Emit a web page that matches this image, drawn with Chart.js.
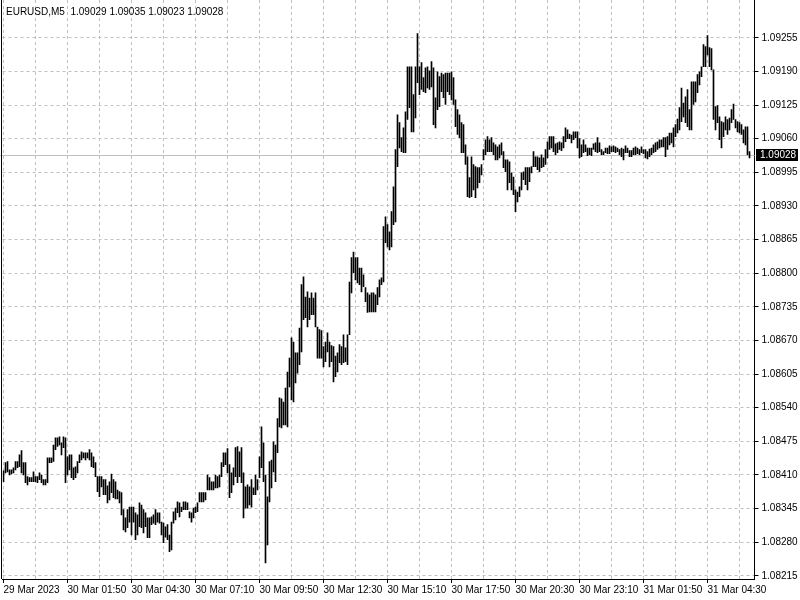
<!DOCTYPE html>
<html>
<head>
    <title>EURUSD,M5</title>
    <script src="https://cdn.jsdelivr.net/npm/chart.js"></script>
</head>
<style>
    body { margin: 0; background: #fff; }
</style>
<body>
    <canvas id="priceChart" width="800" height="600"></canvas>
    <script>
        // bar highs / lows, one per M5 bar, starting 29 Mar 23:10
        const highs = [
            1.08418,1.08434,1.08436,1.08420,1.08420,1.08424,1.08436,1.08436,1.08449,1.08457,
            1.08434,1.08434,1.08407,1.08405,1.08405,1.08416,1.08407,1.08407,1.08414,1.08410,
            1.08401,1.08401,1.08443,1.08443,1.08443,1.08468,1.08482,1.08482,1.08484,1.08472,
            1.08484,1.08482,1.08445,1.08449,1.08449,1.08424,1.08426,1.08436,1.08449,1.08455,
            1.08453,1.08453,1.08453,1.08459,1.08453,1.08445,1.08434,1.08407,1.08407,1.08407,
            1.08401,1.08401,1.08389,1.08397,1.08412,1.08401,1.08397,1.08381,1.08378,1.08376,
            1.08343,1.08327,1.08343,1.08348,1.08348,1.08348,1.08337,1.08333,1.08356,1.08352,
            1.08343,1.08337,1.08327,1.08327,1.08329,1.08333,1.08343,1.08337,1.08337,1.08319,
            1.08317,1.08310,1.08314,1.08294,1.08319,1.08339,1.08346,1.08358,1.08356,1.08348,
            1.08358,1.08358,1.08356,1.08339,1.08337,1.08346,1.08348,1.08356,1.08376,1.08376,
            1.08376,1.08376,1.08410,1.08405,1.08397,1.08397,1.08410,1.08407,1.08410,1.08434,
            1.08453,1.08453,1.08461,1.08430,1.08414,1.08424,1.08463,1.08465,1.08455,1.08463,
            1.08414,1.08387,1.08391,1.08387,1.08401,1.08385,1.08410,1.08401,1.08445,1.08503,
            1.08472,1.08410,1.08368,1.08436,1.08439,1.08474,1.08468,1.08519,1.08559,1.08557,
            1.08551,1.08578,1.08609,1.08636,1.08675,1.08667,1.08646,1.08646,1.08694,1.08778,
            1.08793,1.08754,1.08764,1.08752,1.08762,1.08752,1.08762,1.08696,1.08691,1.08689,
            1.08658,1.08667,1.08685,1.08667,1.08660,1.08658,1.08640,1.08646,1.08662,1.08658,
            1.08681,1.08656,1.08681,1.08783,1.08830,1.08841,1.08830,1.08830,1.08810,1.08810,
            1.08797,1.08772,1.08762,1.08758,1.08762,1.08762,1.08758,1.08772,1.08787,1.08791,
            1.08890,1.08909,1.08894,1.08880,1.08919,1.08967,1.09039,1.09106,1.09091,1.09062,
            1.09081,1.09112,1.09199,1.09199,1.09199,1.09145,1.09199,1.09263,1.09199,1.09207,
            1.09178,1.09197,1.09199,1.09191,1.09209,1.09197,1.09139,1.09189,1.09180,1.09187,
            1.09184,1.09187,1.09187,1.09187,1.09189,1.09178,1.09135,1.09116,1.09106,1.09091,
            1.09087,1.09048,1.09025,1.08985,1.09025,1.09010,1.09006,1.09004,1.09004,1.09010,
            1.09039,1.09058,1.09064,1.09058,1.09062,1.09052,1.09048,1.09044,1.09048,1.09052,
            1.09035,1.09019,1.09019,1.09015,1.08994,1.08986,1.08961,1.08957,1.08967,1.08994,
            1.08996,1.09004,1.09004,1.09004,1.09006,1.09035,1.09025,1.09025,1.09023,1.09029,
            1.09023,1.09039,1.09054,1.09064,1.09064,1.09064,1.09050,1.09052,1.09054,1.09052,
            1.09064,1.09081,1.09077,1.09069,1.09067,1.09073,1.09073,1.09073,1.09060,1.09048,
            1.09058,1.09048,1.09042,1.09042,1.09042,1.09050,1.09052,1.09062,1.09052,1.09039,
            1.09035,1.09042,1.09042,1.09046,1.09044,1.09046,1.09044,1.09042,1.09039,1.09042,
            1.09040,1.09046,1.09042,1.09037,1.09037,1.09042,1.09044,1.09042,1.09039,1.09044,
            1.09039,1.09039,1.09035,1.09040,1.09042,1.09048,1.09052,1.09054,1.09058,1.09058,
            1.09062,1.09062,1.09064,1.09071,1.09071,1.09081,1.09087,1.09098,1.09120,1.09158,
            1.09129,1.09141,1.09155,1.09116,1.09170,1.09170,1.09170,1.09184,1.09189,1.09199,
            1.09242,1.09238,1.09259,1.09236,1.09234,1.09193,1.09122,1.09124,1.09102,1.09093,
            1.09091,1.09102,1.09097,1.09100,1.09116,1.09127,1.09097,1.09093,1.09091,1.09087,
            1.09077,1.09083,1.09083,1.09035
        ];
        const lows = [
            1.08397,1.08414,1.08416,1.08410,1.08412,1.08414,1.08420,1.08424,1.08426,1.08414,
            1.08410,1.08395,1.08391,1.08397,1.08397,1.08397,1.08397,1.08395,1.08401,1.08395,
            1.08391,1.08391,1.08395,1.08434,1.08434,1.08436,1.08459,1.08465,1.08468,1.08449,
            1.08463,1.08395,1.08410,1.08420,1.08405,1.08401,1.08405,1.08414,1.08434,1.08439,
            1.08443,1.08439,1.08443,1.08439,1.08426,1.08424,1.08407,1.08378,1.08368,1.08387,
            1.08372,1.08372,1.08356,1.08362,1.08376,1.08366,1.08364,1.08364,1.08356,1.08333,
            1.08304,1.08300,1.08308,1.08319,1.08294,1.08319,1.08285,1.08294,1.08310,1.08308,
            1.08298,1.08310,1.08289,1.08289,1.08314,1.08317,1.08314,1.08319,1.08317,1.08294,
            1.08279,1.08290,1.08285,1.08262,1.08265,1.08317,1.08323,1.08337,1.08329,1.08339,
            1.08343,1.08343,1.08343,1.08327,1.08319,1.08327,1.08337,1.08339,1.08358,1.08358,
            1.08358,1.08362,1.08381,1.08381,1.08381,1.08381,1.08385,1.08385,1.08387,1.08407,
            1.08426,1.08430,1.08414,1.08366,1.08376,1.08391,1.08407,1.08395,1.08407,1.08395,
            1.08327,1.08346,1.08346,1.08352,1.08348,1.08372,1.08372,1.08381,1.08405,1.08424,
            1.08397,1.08240,1.08275,1.08358,1.08385,1.08416,1.08397,1.08453,1.08503,1.08501,
            1.08507,1.08507,1.08503,1.08580,1.08555,1.08551,1.08588,1.08607,1.08623,1.08648,
            1.08710,1.08714,1.08696,1.08710,1.08720,1.08720,1.08696,1.08636,1.08636,1.08636,
            1.08619,1.08629,1.08648,1.08619,1.08629,1.08590,1.08600,1.08609,1.08627,1.08623,
            1.08627,1.08629,1.08623,1.08681,1.08762,1.08801,1.08787,1.08781,1.08778,1.08764,
            1.08774,1.08745,1.08724,1.08725,1.08725,1.08725,1.08725,1.08739,1.08754,1.08778,
            1.08783,1.08859,1.08851,1.08845,1.08851,1.08894,1.08899,1.09006,1.09042,1.09035,
            1.09033,1.09033,1.09097,1.09120,1.09073,1.09073,1.09100,1.09168,1.09145,1.09155,
            1.09151,1.09149,1.09158,1.09155,1.09160,1.09087,1.09081,1.09116,1.09122,1.09151,
            1.09139,1.09126,1.09151,1.09145,1.09135,1.09126,1.09083,1.09068,1.09062,1.09033,
            1.09033,1.09010,1.08948,1.08946,1.08948,1.08961,1.08946,1.08965,1.08975,1.08990,
            1.09019,1.09029,1.09035,1.09035,1.09035,1.09029,1.09019,1.09019,1.09023,1.09029,
            1.09004,1.08996,1.08961,1.08975,1.08961,1.08952,1.08919,1.08938,1.08948,1.08961,
            1.08981,1.08971,1.08961,1.08977,1.08994,1.09006,1.09006,1.09000,1.08996,1.09004,
            1.09006,1.09010,1.09023,1.09039,1.09042,1.09035,1.09029,1.09033,1.09039,1.09037,
            1.09042,1.09054,1.09060,1.09060,1.09052,1.09058,1.09062,1.09042,1.09023,1.09025,
            1.09033,1.09035,1.09027,1.09029,1.09027,1.09039,1.09035,1.09033,1.09035,1.09029,
            1.09029,1.09033,1.09031,1.09031,1.09035,1.09035,1.09033,1.09035,1.09029,1.09025,
            1.09019,1.09033,1.09033,1.09025,1.09025,1.09029,1.09029,1.09031,1.09029,1.09033,
            1.09031,1.09023,1.09021,1.09025,1.09029,1.09033,1.09035,1.09039,1.09042,1.09044,
            1.09044,1.09025,1.09039,1.09048,1.09052,1.09044,1.09064,1.09071,1.09077,1.09093,
            1.09102,1.09091,1.09083,1.09077,1.09077,1.09126,1.09131,1.09149,1.09164,1.09180,
            1.09199,1.09199,1.09222,1.09199,1.09193,1.09097,1.09077,1.09091,1.09058,1.09042,
            1.09064,1.09077,1.09068,1.09077,1.09091,1.09097,1.09081,1.09073,1.09071,1.09068,
            1.09052,1.09048,1.09029,1.09023
        ];

        // one label every 32 bars
        const timeLabels = [
            '29 Mar 2023', '30 Mar 01:50', '30 Mar 04:30', '30 Mar 07:10',
            '30 Mar 09:50', '30 Mar 12:30', '30 Mar 15:10', '30 Mar 17:50',
            '30 Mar 20:30', '30 Mar 23:10', '31 Mar 01:50', '31 Mar 04:30'
        ];
        const priceTicks = [
            1.08215, 1.08280, 1.08345, 1.08410, 1.08475, 1.08540, 1.08605, 1.08670,
            1.08735, 1.08800, 1.08865, 1.08930, 1.08995, 1.09060, 1.09125, 1.09190, 1.09255
        ];
        const symbol = 'EURUSD,M5';
        const lastBar = { open: 1.09029, high: 1.09035, low: 1.09023, close: 1.09028 };

        const SHIFT_BARS = 2; // empty space right of the last bar
        const gridColor = '#c0c0c0';
        const font = { family: 'Liberation Sans', size: 10 };

        const categories = [];
        for (let i = 0; i < highs.length + SHIFT_BARS; i++) categories.push(i);
        const bars = highs.map((h, i) => [lows[i], h]);

        const terminalPlugin = {
            id: 'terminal',
            beforeDatasetsDraw(chart) {
                const { ctx, chartArea, scales } = chart;
                const y = Math.round(scales.y.getPixelForValue(lastBar.close)) + 0.5;
                ctx.save();
                ctx.strokeStyle = gridColor;
                ctx.lineWidth = 1;
                ctx.beginPath();
                ctx.moveTo(0, y);
                ctx.lineTo(chartArea.right, y);
                ctx.stroke();
                ctx.restore();
            },
            afterDraw(chart) {
                const { ctx, chartArea, scales } = chart;
                ctx.save();
                // left frame
                ctx.strokeStyle = '#000';
                ctx.beginPath();
                ctx.moveTo(1.5, 0);
                ctx.lineTo(1.5, chartArea.bottom);
                ctx.stroke();
                // header
                ctx.fillStyle = '#000';
                ctx.font = '10px "Liberation Sans"';
                ctx.textBaseline = 'alphabetic';
                ctx.fillText(symbol + '  ' + [lastBar.open, lastBar.high, lastBar.low, lastBar.close]
                    .map(v => v.toFixed(5)).join(' '), 6, 15);
                // current price box
                const y = Math.round(scales.y.getPixelForValue(lastBar.close));
                ctx.fillRect(Math.round(chartArea.right) + 1, y - 6, 42, 12);
                ctx.fillStyle = '#fff';
                ctx.textBaseline = 'middle';
                ctx.fillText(lastBar.close.toFixed(5), Math.round(chartArea.right) + 5, y + 0.5);
                ctx.restore();
            }
        };

        const chart = new Chart(document.getElementById('priceChart'), {
            type: 'bar',
            data: {
                labels: categories,
                datasets: [{
                    data: bars,
                    backgroundColor: '#000',
                    borderWidth: 0,
                    barThickness: 1
                }]
            },
            plugins: [terminalPlugin],
            options: {
                responsive: false,
                animation: false,
                layout: { padding: { left: 2.5, top: 0, right: 0, bottom: 0 } },
                plugins: {
                    legend: { display: false },
                    tooltip: { enabled: false }
                },
                scales: {
                    x: {
                        offset: true,
                        grid: {
                            offset: false,
                            color: c => c.index % 16 === 0 ? gridColor : 'rgba(0,0,0,0)',
                            tickColor: c => c.index % 32 === 0 ? '#000' : 'rgba(0,0,0,0)',
                            tickLength: 4
                        },
                        border: { color: '#000', dash: [3, 3] },
                        ticks: {
                            autoSkip: false,
                            maxRotation: 0,
                            align: 'start',
                            padding: 1,
                            color: '#000',
                            font: font,
                            callback: (v, i) => i % 32 === 0 ? (timeLabels[i / 32] || '') : ''
                        },
                        afterFit: s => { s.height = 21; s.paddingLeft = 0; s.paddingRight = 0; }
                    },
                    y: {
                        position: 'right',
                        min: 1.08209,
                        max: 1.09328,
                        grid: { color: gridColor, tickColor: '#000', tickLength: 4 },
                        border: { color: '#000', dash: [3, 3] },
                        ticks: {
                            padding: 3,
                            color: '#000',
                            font: font,
                            callback: v => Number(v).toFixed(5)
                        },
                        afterBuildTicks: s => { s.ticks = priceTicks.map(v => ({ value: v })); },
                        afterFit: s => { s.width = 45.5; s.paddingTop = 0; s.paddingBottom = 0; }
                    }
                }
            }
        });
    </script>
</body>
</html>
